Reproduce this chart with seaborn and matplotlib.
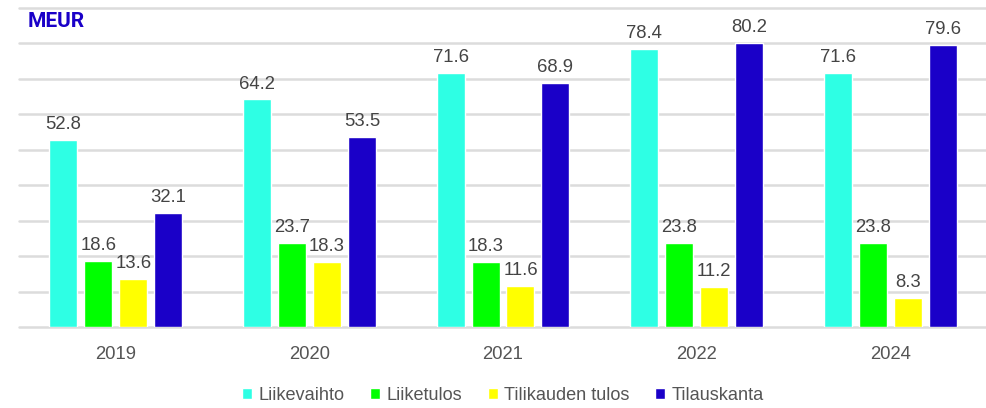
import matplotlib
matplotlib.use("Agg")
import matplotlib.pyplot as plt
import seaborn as sns
import pandas as pd

# data
years = ["2019", "2020", "2021", "2022", "2024"]
series = ["Liikevaihto", "Liiketulos", "Tilikauden tulos", "Tilauskanta"]
liikevaihto = [52.8, 64.2, 71.6, 78.4, 71.6]
liiketulos = [18.6, 23.7, 18.3, 23.8, 23.8]
tilikauden_tulos = [13.6, 18.3, 11.6, 11.2, 8.3]
tilauskanta = [32.1, 53.5, 68.9, 80.2, 79.6]
colors = ["#2effe4", "#00ff00", "#ffff00", "#1a00c8"]

rows = []
for name, vals in zip(series, [liikevaihto, liiketulos, tilikauden_tulos, tilauskanta]):
    for y, v in zip(years, vals):
        rows.append({"year": y, "series": name, "value": v})
df = pd.DataFrame(rows)

sns.set_style("white")
plt.rcParams["font.family"] = ["Liberation Sans", "DejaVu Sans"]

fig = plt.figure(figsize=(9.87, 4.08), dpi=100)
ax = fig.add_axes([19 / 987, 81 / 408, 968 / 987, 319 / 408])

sns.barplot(data=df, x="year", y="value", hue="series", palette=colors,
            width=0.723, gap=0.2, saturation=1, ax=ax, legend=True)

for c in ax.containers:
    ax.bar_label(c, fmt="%.1f", padding=5, fontsize=13.3, color="#444444")

ax.set_ylim(0, 90)
ax.set_yticks(range(0, 91, 10))
ax.set_yticklabels([])
ax.yaxis.grid(True, color="#dcdcdc", linewidth=1.8)
for gl in ax.get_ygridlines():
    gl.set_clip_on(False)
ax.set_axisbelow(True)
ax.tick_params(axis="both", length=0)
ax.tick_params(axis="x", labelsize=13.3, labelcolor="#555555", pad=14)
ax.set_xlabel("")
ax.set_ylabel("")
sns.despine(ax=ax, left=True, bottom=True, top=True, right=True)

# "MEUR" unit title, bold and a bit narrow in the original
ax.text(0.0093, 0.988, "MEUR", transform=ax.transAxes, color="#1a00c8",
        fontsize=15, fontweight="bold",
        family=["Roboto", "DejaVu Sans"], va="top", ha="left")

handles, labels = ax.get_legend_handles_labels()
ax.legend(handles, labels, loc="center", bbox_to_anchor=(0.5, -0.215),
          ncol=4, frameon=False, fontsize=13.1, handlelength=0.55, handleheight=0.55,
          handletextpad=0.35, columnspacing=1.4, labelcolor="#555555")

plt.savefig("out.png", dpi=100)
